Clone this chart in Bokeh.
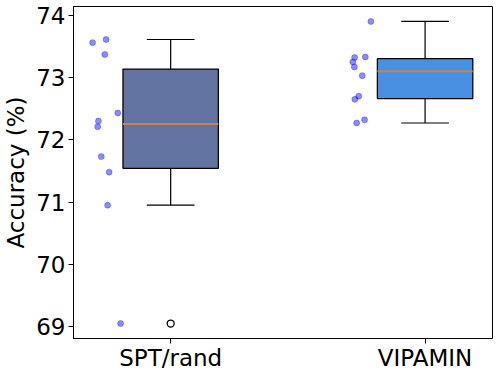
import numpy as np
from bokeh.plotting import figure
from bokeh.models import FixedTicker, Range1d
from bokeh.embed import file_html
from bokeh.resources import INLINE

methods = ["SPT/rand", "VIPAMIN"]
spt_acc = [73.56, 73.61, 73.37, 72.43, 72.30, 72.21, 71.73, 71.48, 70.95, 69.05]
spt_jitter = [-0.307, -0.254, -0.259, -0.208, -0.284, -0.287, -0.273, -0.242, -0.248, -0.197]
vip_acc = [73.90, 73.33, 73.32, 73.25, 73.17, 73.03, 72.70, 72.65, 72.32, 72.27]
vip_jitter = [-0.213, -0.235, -0.277, -0.284, -0.278, -0.247, -0.261, -0.276, -0.238, -0.269]
box_colors = ["#6474A2", "#4A90E2"]
y_ticks = [69, 70, 71, 72, 73, 74]

series = [spt_acc, vip_acc]
jitters = [spt_jitter, vip_jitter]
positions = [1, 2]
box_w = 0.375

FONT = "DejaVu Sans"

p = figure(frame_width=419, frame_height=332, output_backend="svg", toolbar_location=None,
           x_range=Range1d(0.618, 2.265), y_range=Range1d(68.81, 74.14),
           min_border_left=64, min_border_right=1, min_border_top=6, min_border_bottom=0)
p.xgrid.visible = False
p.ygrid.visible = False
p.outline_line_color = "black"
p.outline_line_alpha = 1
p.outline_line_width = 1
p.background_fill_color = "white"
p.border_fill_color = "white"

for pos, vals, jit, col in zip(positions, series, jitters, box_colors):
    a = np.array(vals)
    q1, med, q3 = np.percentile(a, [25, 50, 75])
    iqr = q3 - q1
    lo_f, hi_f = q1 - 1.5 * iqr, q3 + 1.5 * iqr
    inside = a[(a >= lo_f) & (a <= hi_f)]
    wlo, whi = inside.min(), inside.max()
    outl = a[(a < lo_f) | (a > hi_f)]

    # jittered points
    p.scatter([pos + j for j in jit], vals, size=6, color="blue", alpha=0.45, line_alpha=0.3)
    # whiskers
    p.segment([pos, pos], [q3, q1], [pos, pos], [whi, wlo], line_color="black", line_width=1.2)
    p.segment([pos - box_w / 4, pos - box_w / 4], [whi, wlo], [pos + box_w / 4, pos + box_w / 4], [whi, wlo],
              line_color="black", line_width=1.2)
    # box
    p.vbar(x=[pos], width=box_w, top=[q3], bottom=[q1], fill_color=col,
           line_color="black", line_width=1.3)
    # median
    p.segment([pos - box_w / 2], [med], [pos + box_w / 2], [med], line_color="#C8824A", line_width=2)
    # outliers
    if len(outl):
        p.scatter([pos] * len(outl), list(outl), size=7, marker="circle", fill_color=None,
                  line_color="black", line_width=1.3)

p.xaxis.ticker = FixedTicker(ticks=positions)
p.xaxis.major_label_overrides = {pos: m for pos, m in zip(positions, methods)}
p.yaxis.ticker = FixedTicker(ticks=y_ticks)
p.yaxis.axis_label = "Accuracy (%)"

for ax in (p.xaxis[0], p.yaxis[0]):
    ax.major_label_text_font = FONT
    ax.major_label_text_font_size = "23px"
    ax.major_label_text_color = "black"
    ax.axis_label_text_font = FONT
    ax.axis_label_text_font_size = "23px"
    ax.axis_label_text_font_style = "normal"
    ax.axis_label_text_color = "black"
    ax.major_tick_out = 5
    ax.major_tick_in = 0
    ax.minor_tick_line_color = None
    ax.major_tick_line_color = "black"
    ax.axis_line_color = "black"
    ax.major_label_standoff = 3
p.xaxis.major_label_standoff = 1
p.yaxis.axis_label_standoff = 4

open("out.html", "w").write(file_html(p, INLINE))
